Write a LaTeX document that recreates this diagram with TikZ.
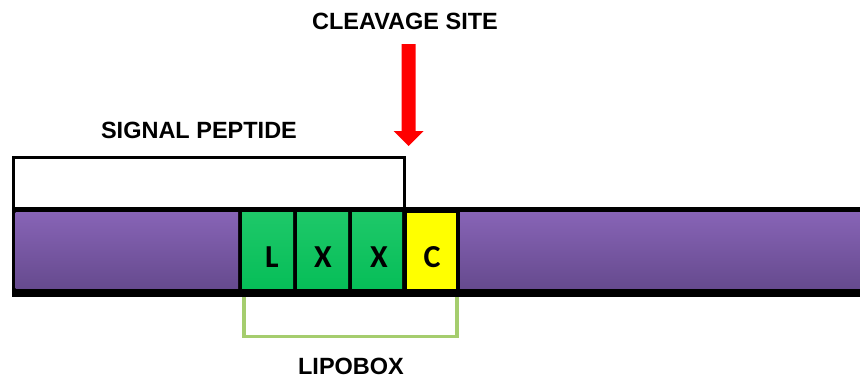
\documentclass[tikz,border=0pt]{standalone}
\usepackage{fontspec}
\setmainfont{Liberation Sans}
\newfontfamily\letterfont{Carlito}
\definecolor{purtop}{RGB}{135,100,182}
\definecolor{purbot}{RGB}{102,74,142}
\definecolor{grn}{RGB}{6,190,88}
\definecolor{grntop}{RGB}{30,200,105}
\definecolor{yel}{RGB}{255,255,0}
\definecolor{lipo}{RGB}{165,205,110}
\definecolor{arrowred}{RGB}{255,0,0}
\begin{document}
\begin{tikzpicture}[x=1pt,y=-1pt,
  label/.style={font=\bfseries\fontsize{23.5}{25}\selectfont, inner sep=0pt, anchor=center},
  letter/.style={font=\letterfont\bfseries\fontsize{32}{33}\selectfont, inner sep=0pt, anchor=center},
  purseg/.style={top color=purtop, bottom color=purbot},
  grnseg/.style={top color=grntop, bottom color=grn},
  yelseg/.style={fill=yel}]
\useasboundingbox (0,0) rectangle (860,378);
\fill[white] (0,0) rectangle (860,378);
% signal peptide box
\draw[line width=3pt] (13.5,208) -- (13.5,157.5) -- (404.5,157.5) -- (404.5,208);
% bar
\fill[black] (12,207) rectangle (860,297);
\shade[purseg] (15.5,212.5) rectangle (238,288.5);
\shade[grnseg] (242,212.5) rectangle (293,288.5);
\shade[grnseg] (297,212.5) rectangle (348,288.5);
\shade[grnseg] (352,212.5) rectangle (402,288.5);
\fill[yelseg] (407,212.5) rectangle (456,288.5);
\shade[purseg] (460,212.5) rectangle (860,288.5);
% letters
\node[letter] (L) at (272,257) {L};
\node[letter] (X1) at (323,257) {X};
\node[letter] (X2) at (379,257) {X};
\node[letter] (C) at (432,257) {C};
% lipobox bracket
\coordinate (lb1) at (244,297);
\coordinate (lb2) at (457,297);
\draw[lipo, line width=3.5pt] (lb1) -- (244,336.5) -- (457,336.5) -- (lb2);
% labels
\node[label] (cleave) at (405,21) {CLEAVAGE SITE};
\node[label] (sigpep) at (199,130) {SIGNAL PEPTIDE};
\node[label] (lipobox) at (351,366) {LIPOBOX};
% red arrow
\fill[arrowred] (401.5,44) -- (415.5,44) -- (415.5,131) -- (423.5,131) -- (408.5,146) -- (393.5,131) -- (401.5,131) -- cycle;
\end{tikzpicture}
\end{document}
